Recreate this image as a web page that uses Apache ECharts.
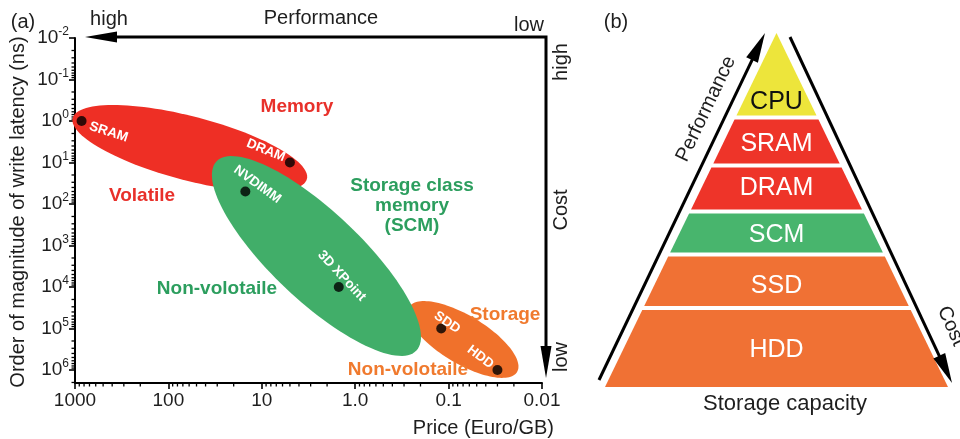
<!DOCTYPE html>
<html>
<head>
<meta charset="utf-8">
<script src="https://cdn.jsdelivr.net/npm/echarts@6/dist/echarts.min.js"></script>
<style>
  html, body { margin: 0; padding: 0; background: #fff; }
  #chart { width: 960px; height: 439px; }
</style>
</head>
<body>
<div id="chart"></div>
<script>
// ---- (a) memory technologies: price per GB vs. write latency ----
const techNames   = ['SRAM', 'DRAM', 'NVDIMM', '3D XPoint', 'SDD', 'HDD'];
const techPrice   = [850, 5, 15, 1.5, 0.12, 0.03];          // Euro/GB
const techLatency = [1, 10, 50, 1e4, 1e5, 1e6];              // ns

// technology families, shaded regions centred in data space
const familyNames   = ['Volatile memory', 'Storage', 'Storage class memory'];
const familyPrice   = [59, 0.07, 2.6];
const familyLatency = [4.6, 1.84e5, 1790];

const priceTicks      = [1000, 100, 10, 1, 0.1, 0.01];
const priceTickLabels = ['1000', '100', '10', '1.0', '0.1', '0.01'];
const latencyExponents = [-2, -1, 0, 1, 2, 3, 4, 5, 6];

// ---- (b) memory hierarchy pyramid, bottom tier first ----
const tierNames  = ['HDD', 'SSD', 'SCM', 'DRAM', 'SRAM', 'CPU'];
const tierLevels = [0, 0.223, 0.374, 0.496, 0.626, 0.761, 1];

// ---- styles and layout ----
const FONT = "'Liberation Sans', Arial, Helvetica, sans-serif";
const DEG = Math.PI / 180;
const INK = '#1e1e1e';
const LAT_MAX = 2.06e6;

const familyStyle = [
  { color: '#EE2F25', rx: 121, ry: 32, angle: 14.6 },
  { color: '#F0712B', rx: 63, ry: 24, angle: 31 },
  { color: '#41AE69', rx: 137.6, ry: 44.5, angle: 43.4 }
];
const techLabelLayout = [
  { dx: 27, dy: 11, angle: 18 },
  { dx: -24, dy: -12, angle: 22 },
  { dx: 12, dy: -7, angle: 36 },
  { dx: 3, dy: -11, angle: 47 },
  { dx: 6, dy: -6, angle: 34 },
  { dx: -17, dy: -13, angle: 37 }
];
const tierColors     = ['#F07134', '#F07134', '#48B56D', '#EE3429', '#EE3429', '#EDE53B'];
const tierTextColors = ['#fff', '#fff', '#fff', '#fff', '#fff', '#111'];
const tierLabelAt    = [0.47, 0.41, 0.45, 0.5, 0.44, 0.18];

function minorValues(lo, hi) {
  const out = [];
  for (let n = Math.floor(Math.log10(lo)); n <= Math.ceil(Math.log10(hi)); n++) {
    for (let k = 2; k <= 9; k++) {
      const v = k * Math.pow(10, n);
      if (v > lo && v < hi) out.push(v);
    }
  }
  return out;
}

function text(x, y, str, opt) {
  opt = opt || {};
  return {
    type: 'text', x: x, y: y, rotation: (opt.rot || 0) * DEG, z: 20,
    style: {
      text: str, fill: opt.color || INK, fontSize: opt.size || 20,
      fontFamily: FONT, fontWeight: opt.weight || 'normal',
      align: opt.align || 'center', verticalAlign: 'middle',
      lineHeight: opt.lineHeight
    }
  };
}

function arrow(x1, y1, x2, y2, headLen, headHalf, width) {
  const dx = x2 - x1, dy = y2 - y1, L = Math.hypot(dx, dy);
  const ux = dx / L, uy = dy / L;
  const bx = x2 - ux * headLen, by = y2 - uy * headLen;
  return [
    { type: 'line', z: 20, shape: { x1: x1, y1: y1, x2: bx + ux * 3, y2: by + uy * 3 },
      style: { stroke: '#000', lineWidth: width } },
    { type: 'polygon', z: 20, shape: { points: [[x2, y2], [bx - uy * headHalf, by + ux * headHalf], [bx + uy * headHalf, by - ux * headHalf]] },
      style: { fill: '#000' } }
  ];
}

const chart = echarts.init(document.getElementById('chart'), null, { renderer: 'canvas' });

const graphics = [
  text(23, 22, '(a)'),
  text(616, 22, '(b)'),
  // top performance arrow and right cost arrow of panel (a)
  { type: 'polyline', z: 20, shape: { points: [[114, 37], [546, 37], [546, 348]] },
    style: { stroke: '#000', lineWidth: 3, fill: null, lineJoin: 'miter' } },
  { type: 'polygon', z: 20, shape: { points: [[85, 37], [117, 31.5], [117, 42.5]] }, style: { fill: '#000' } },
  { type: 'polygon', z: 20, shape: { points: [[546, 378], [540.5, 346], [551.5, 346]] }, style: { fill: '#000' } },
  text(109, 19, 'high'),
  text(321, 18, 'Performance'),
  text(529, 25, 'low'),
  text(561, 62, 'high', { rot: 90 }),
  text(561, 210, 'Cost', { rot: 90 }),
  text(561, 357, 'low', { rot: 90 }),
  // axis titles
  text(18, 212, 'Order of magnitude of write latency (ns)', { rot: 90 }),
  text(554, 428, 'Price (Euro/GB)', { align: 'right' }),
  // region captions
  text(297, 107, 'Memory', { color: '#E8302A', weight: 'bold', size: 19 }),
  text(142, 196, 'Volatile', { color: '#E8302A', weight: 'bold', size: 19 }),
  text(412, 205.5, 'Storage class\nmemory\n(SCM)', { color: '#2C9E5E', weight: 'bold', size: 19, lineHeight: 20 }),
  text(217, 289, 'Non-volotaile', { color: '#2C9E5E', weight: 'bold', size: 19 }),
  text(505, 315, 'Storage', { color: '#F07A2E', weight: 'bold', size: 19 }),
  text(408, 370, 'Non-volotaile', { color: '#F07A2E', weight: 'bold', size: 19 }),
  // pyramid side arrows and captions
  ...arrow(599, 380, 765, 33, 30, 6.5, 3),
  ...arrow(790, 37, 952, 383, 30, 6.5, 3),
  text(706, 109, 'Performance', { rot: 64.6 }),
  text(951, 326, 'Cost', { rot: -66 }),
  text(785, 404, 'Storage capacity', { size: 22 })
];

const option = {
  backgroundColor: '#fff',
  animation: false,
  grid: [
    { left: 75, right: 418, top: 38, bottom: 56, outerBoundsMode: 'none', containLabel: false },
    { left: 605, top: 33, width: 343, height: 354, outerBoundsMode: 'none', containLabel: false }
  ],
  xAxis: [
    {
      type: 'log', logBase: 10, gridIndex: 0, min: 0.01, max: 1000, inverse: true,
      axisLine: { onZero: false, lineStyle: { color: '#000', width: 2 } },
      axisTick: { length: 6, lineStyle: { color: '#000', width: 1.6 }, customValues: priceTicks },
      axisLabel: {
        customValues: priceTicks, margin: 8, color: INK, fontSize: 19, fontFamily: FONT,
        formatter: function (v) {
          const i = priceTicks.findIndex(t => Math.abs(Math.log10(t) - Math.log10(v)) < 1e-6);
          return i < 0 ? '' : priceTickLabels[i];
        }
      },
      splitLine: { show: false }, minorTick: { show: false }
    },
    { type: 'value', gridIndex: 1, min: -1, max: 1, show: false }
  ],
  yAxis: [
    {
      type: 'log', logBase: 10, gridIndex: 0, min: 0.01, max: LAT_MAX, inverse: true,
      axisLine: { onZero: false, lineStyle: { color: '#000', width: 2 } },
      axisTick: { length: 6, lineStyle: { color: '#000', width: 1.6 }, customValues: latencyExponents.map(e => Math.pow(10, e)) },
      axisLabel: {
        customValues: latencyExponents.map(e => Math.pow(10, e)), margin: 6, color: INK, fontFamily: FONT,
        formatter: function (v) {
          const e = Math.log10(v), n = Math.round(e);
          if (Math.abs(e - n) > 1e-6) return '';
          return '{b|10}{s|' + (n < 0 ? '-' : '') + Math.abs(n) + '}';
        },
        rich: {
          b: { fontSize: 19, lineHeight: 24, fontFamily: FONT, color: INK },
          s: { fontSize: 12, lineHeight: 12, verticalAlign: 'top', fontFamily: FONT, color: INK }
        }
      },
      splitLine: { show: false }, minorTick: { show: false }
    },
    { type: 'value', gridIndex: 1, min: 0, max: 1, show: false }
  ],
  series: [
    {
      // logarithmic minor ticks on both axes of panel (a)
      type: 'custom', xAxisIndex: 0, yAxisIndex: 0, clip: false, silent: true, z: 1,
      data: [[1, 1]],
      renderItem: function (params, api) {
        const cs = params.coordSys;
        const bottom = cs.y + cs.height, left = cs.x;
        const children = [];
        minorValues(0.01, 1000).forEach(function (v) {
          const x = api.coord([v, 1])[0];
          children.push({ type: 'line', shape: { x1: x, y1: bottom, x2: x, y2: bottom + 3.5 }, style: { stroke: '#000', lineWidth: 1.3 } });
        });
        minorValues(0.01, LAT_MAX).forEach(function (v) {
          const y = api.coord([1, v])[1];
          children.push({ type: 'line', shape: { x1: left, y1: y, x2: left - 3.5, y2: y }, style: { stroke: '#000', lineWidth: 1.3 } });
        });
        return { type: 'group', children: children };
      }
    },
    {
      // shaded technology families
      name: 'families', type: 'custom', xAxisIndex: 0, yAxisIndex: 0, clip: false, silent: true, z: 2,
      data: familyPrice.map((p, i) => [p, familyLatency[i], i]),
      renderItem: function (params, api) {
        const i = api.value(2);
        const c = api.coord([api.value(0), api.value(1)]);
        const s = familyStyle[i], a = s.angle * DEG;
        const pts = [];
        for (let k = 0; k < 120; k++) {
          const t = k / 120 * 2 * Math.PI;
          const ex = s.rx * Math.cos(t), ey = s.ry * Math.sin(t);
          pts.push([c[0] + ex * Math.cos(a) - ey * Math.sin(a), c[1] + ex * Math.sin(a) + ey * Math.cos(a)]);
        }
        return { type: 'polygon', shape: { points: pts }, style: { fill: s.color } };
      }
    },
    {
      name: 'technologies', type: 'scatter', xAxisIndex: 0, yAxisIndex: 0, z: 4, silent: true,
      data: techPrice.map((p, i) => [p, techLatency[i]]),
      symbol: 'circle', symbolSize: 10, itemStyle: { color: '#000' }
    },
    {
      // technology names beside their points
      type: 'custom', xAxisIndex: 0, yAxisIndex: 0, clip: false, silent: true, z: 5,
      data: techPrice.map((p, i) => [p, techLatency[i], i]),
      renderItem: function (params, api) {
        const i = api.value(2);
        const c = api.coord([api.value(0), api.value(1)]);
        const L = techLabelLayout[i];
        return {
          type: 'text', x: c[0] + L.dx, y: c[1] + L.dy, rotation: -L.angle * DEG,
          style: { text: techNames[i], fill: '#fff', fontSize: 13.5, fontWeight: 'bold', fontFamily: FONT, align: 'center', verticalAlign: 'middle' }
        };
      }
    },
    {
      // hierarchy pyramid tiers
      type: 'custom', xAxisIndex: 1, yAxisIndex: 1, clip: false, silent: true, z: 2,
      data: tierNames.map((n, i) => [0, tierLevels[i], i]),
      renderItem: function (params, api) {
        const i = api.value(2);
        const last = tierNames.length - 1;
        const g = 2 / api.size([0, 1])[1];
        const b = tierLevels[i] + (i > 0 ? g : 0);
        const t = tierLevels[i + 1] - (i < last ? g : 0);
        const pts = [[-(1 - b), b], [1 - b, b], [1 - t, t], [-(1 - t), t]].map(p => api.coord(p));
        const ly = tierLevels[i] + tierLabelAt[i] * (tierLevels[i + 1] - tierLevels[i]);
        const lc = api.coord([0, ly]);
        return {
          type: 'group',
          children: [
            { type: 'polygon', shape: { points: pts }, style: { fill: tierColors[i] } },
            { type: 'text', x: lc[0], y: lc[1], z2: 5,
              style: { text: tierNames[i], fill: tierTextColors[i], fontSize: 25, fontFamily: FONT, align: 'center', verticalAlign: 'middle' } }
          ]
        };
      }
    }
  ],
  graphic: graphics
};

chart.setOption(option);
</script>
</body>
</html>
